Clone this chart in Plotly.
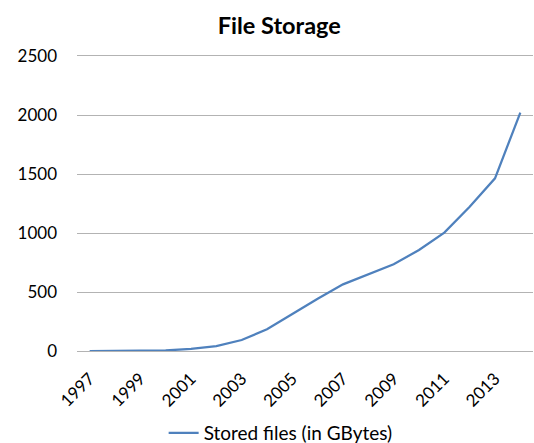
import plotly.graph_objects as go

years = list(range(1997, 2015))
stored_gb = [0, 1, 2, 5, 17, 42, 93, 184, 313, 443, 565, 650, 735, 856, 1003, 1223, 1463, 2020]

tick_years = list(range(1997, 2015, 2))
tick_text = [str(y) for y in tick_years]

fig = go.Figure()

fig.add_trace(go.Scatter(
    x=years,
    y=stored_gb,
    mode='lines',
    name='Stored files (in GBytes)',
    line=dict(color='#4F81BD', width=2.25)
))

fig.update_layout(
    title=dict(text="<b>File Storage</b>", x=0.523, xanchor='center',
               y=1 - 26 / 443, yanchor='middle',
               font=dict(size=23.5, color='black')),
    width=534,
    height=443,
    margin=dict(l=77, r=1, t=56, b=92),
    paper_bgcolor='white',
    plot_bgcolor='white',
    font=dict(family="Lato, 'Open Sans', sans-serif", color='black', size=17),
    showlegend=True,
    legend=dict(orientation='h', x=0.19, xanchor='left',
                yref='container', y=10 / 443, yanchor='middle',
                font=dict(size=19)),
    xaxis=dict(
        range=[1996.5, 2014.5],
        tickvals=tick_years,
        ticktext=tick_text,
        tickangle=-45,
        ticklabelstandoff=10,
        showgrid=False,
        zeroline=False,
        # mirrored x line doubles as the 0 and 2500 gridlines
        showline=True,
        mirror=True,
        linecolor='#b3b3b3',
        linewidth=1,
        ticks='',
        automargin=False,
        fixedrange=True
    ),
    yaxis=dict(
        range=[0, 2500],
        dtick=500,
        showgrid=True,
        gridcolor='#b3b3b3',
        gridwidth=1,
        zeroline=False,
        ticks='',
        ticklabelstandoff=19,
        automargin=False,
        fixedrange=True
    )
)

# page body has a default 8px margin; drop it so the figure fills the window
fig.write_html("out.html", config={'displayModeBar': False},
               post_script="document.body.style.margin = '0';")
